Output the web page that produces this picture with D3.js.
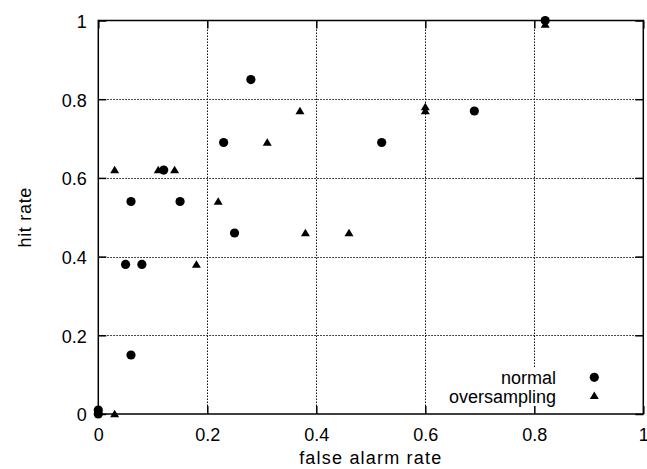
<!DOCTYPE html>
<html>
<head>
<meta charset="utf-8">
<script src="https://cdn.jsdelivr.net/npm/d3@7"></script>
<style>
  html, body { margin: 0; padding: 0; background: #fff; }
  svg { display: block; font-family: "Liberation Sans", Arial, Helvetica, sans-serif; }
</style>
</head>
<body>
<svg id="chart" width="647" height="469"></svg>
<script>
// ROC points: false alarm rate (x) vs hit rate (y)
const normalX = [0, 0, 0.05, 0.06, 0.06, 0.08, 0.12, 0.15, 0.23, 0.25, 0.28, 0.52, 0.69, 0.82];
const normalY = [0.01, 0, 0.38, 0.15, 0.54, 0.38, 0.62, 0.54, 0.69, 0.46, 0.85, 0.69, 0.77, 1.0];
const overX = [0.03, 0.03, 0.11, 0.14, 0.18, 0.22, 0.31, 0.37, 0.38, 0.46, 0.6, 0.6, 0.82];
const overY = [0, 0.62, 0.62, 0.62, 0.38, 0.54, 0.69, 0.77, 0.46, 0.46, 0.78, 0.77, 0.99];

const xTicks = [0, 0.2, 0.4, 0.6, 0.8, 1];
const yTicks = [0, 0.2, 0.4, 0.6, 0.8, 1];
const gridTicks = [0.2, 0.4, 0.6, 0.8];
const seriesNames = ["normal", "oversampling"];
const xTitle = "false alarm rate";
const yTitle = "hit rate";

const svg = d3.select("#chart");
const plotL = 98.3, plotR = 643.3, plotT = 20.5, plotB = 414;

const x = d3.scaleLinear().domain([0, 1]).range([plotL, plotR]);
const y = d3.scaleLinear().domain([0, 1]).range([plotB, plotT]);
const fmt = d3.format("~g");

// dotted grid
const grid = svg.append("g")
  .attr("stroke", "#111").attr("stroke-width", 1).attr("stroke-dasharray", "1.5,1.5");
grid.selectAll("line.gx").data(gridTicks).join("line")
  .attr("x1", d => Math.round(x(d)) + 0.5).attr("x2", d => Math.round(x(d)) + 0.5)
  .attr("y1", plotT).attr("y2", plotB);
grid.selectAll("line.gy").data(gridTicks).join("line")
  .attr("y1", d => Math.round(y(d)) + 0.5).attr("y2", d => Math.round(y(d)) + 0.5)
  .attr("x1", plotL).attr("x2", plotR);

// key area is kept clear of grid lines
svg.append("rect")
  .attr("x", 440).attr("y", 368).attr("width", plotR - 440).attr("height", plotB - 368)
  .attr("fill", "#fff");

// axes with inward ticks on all four sides
function styleAxis(g) {
  g.select(".domain").remove();
  g.selectAll(".tick line").attr("stroke", "#000").attr("stroke-width", 1.5);
  g.selectAll(".tick text").attr("fill", "#000").style("font-size", "18px");
}
svg.append("g").attr("transform", `translate(0,${plotB})`)
  .call(d3.axisBottom(x).tickValues(xTicks).tickSize(-8).tickPadding(14).tickFormat(fmt))
  .call(styleAxis);
svg.append("g").attr("transform", `translate(${plotL},0)`)
  .call(d3.axisLeft(y).tickValues(yTicks).tickSize(-8).tickPadding(11.5).tickFormat(fmt))
  .call(styleAxis)
  .selectAll(".tick text").attr("dy", "0.38em");
svg.append("g").attr("transform", `translate(0,${plotT})`)
  .call(d3.axisTop(x).tickValues(xTicks).tickSize(-8).tickFormat(""))
  .call(styleAxis);
svg.append("g").attr("transform", `translate(${plotR},0)`)
  .call(d3.axisRight(y).tickValues(yTicks).tickSize(-8).tickFormat(""))
  .call(styleAxis);

// frame
svg.append("rect")
  .attr("x", plotL).attr("y", plotT).attr("width", plotR - plotL).attr("height", plotB - plotT)
  .attr("fill", "none").attr("stroke", "#000").attr("stroke-width", 1.5);

// axis titles
svg.append("text")
  .attr("x", (plotL + plotR) / 2).attr("y", 464)
  .attr("text-anchor", "middle").style("font-size", "18px").attr("fill", "#000")
  .style("letter-spacing", "1.2px")
  .text(xTitle);
svg.append("text")
  .attr("transform", `translate(31,${(plotT + plotB) / 2}) rotate(-90)`)
  .attr("text-anchor", "middle").style("font-size", "18px").attr("fill", "#000")
  .style("letter-spacing", "0.7px")
  .text(yTitle);

// markers
const triPath = "M0,-4.2L4.5,3.3L-4.5,3.3Z";
const normalPts = normalX.map((v, i) => [v, normalY[i]]);
const overPts = overX.map((v, i) => [v, overY[i]]);

svg.append("g").selectAll("circle").data(normalPts).join("circle")
  .attr("cx", d => x(d[0])).attr("cy", d => y(d[1])).attr("r", 4.6).attr("fill", "#000");
svg.append("g").selectAll("path").data(overPts).join("path")
  .attr("transform", d => `translate(${x(d[0])},${y(d[1])})`)
  .attr("d", triPath).attr("fill", "#000");

// key
const key = svg.append("g");
key.append("text").attr("x", 556).attr("y", 384.3).attr("text-anchor", "end")
  .style("font-size", "18px").attr("fill", "#000").text(seriesNames[0]);
key.append("text").attr("x", 556).attr("y", 403.3).attr("text-anchor", "end")
  .style("font-size", "18px").attr("fill", "#000").text(seriesNames[1]);
key.append("circle").attr("cx", 594.3).attr("cy", 377.3).attr("r", 4.6).attr("fill", "#000");
key.append("path").attr("transform", "translate(594.3,395.7)").attr("d", triPath).attr("fill", "#000");
</script>
</body>
</html>
